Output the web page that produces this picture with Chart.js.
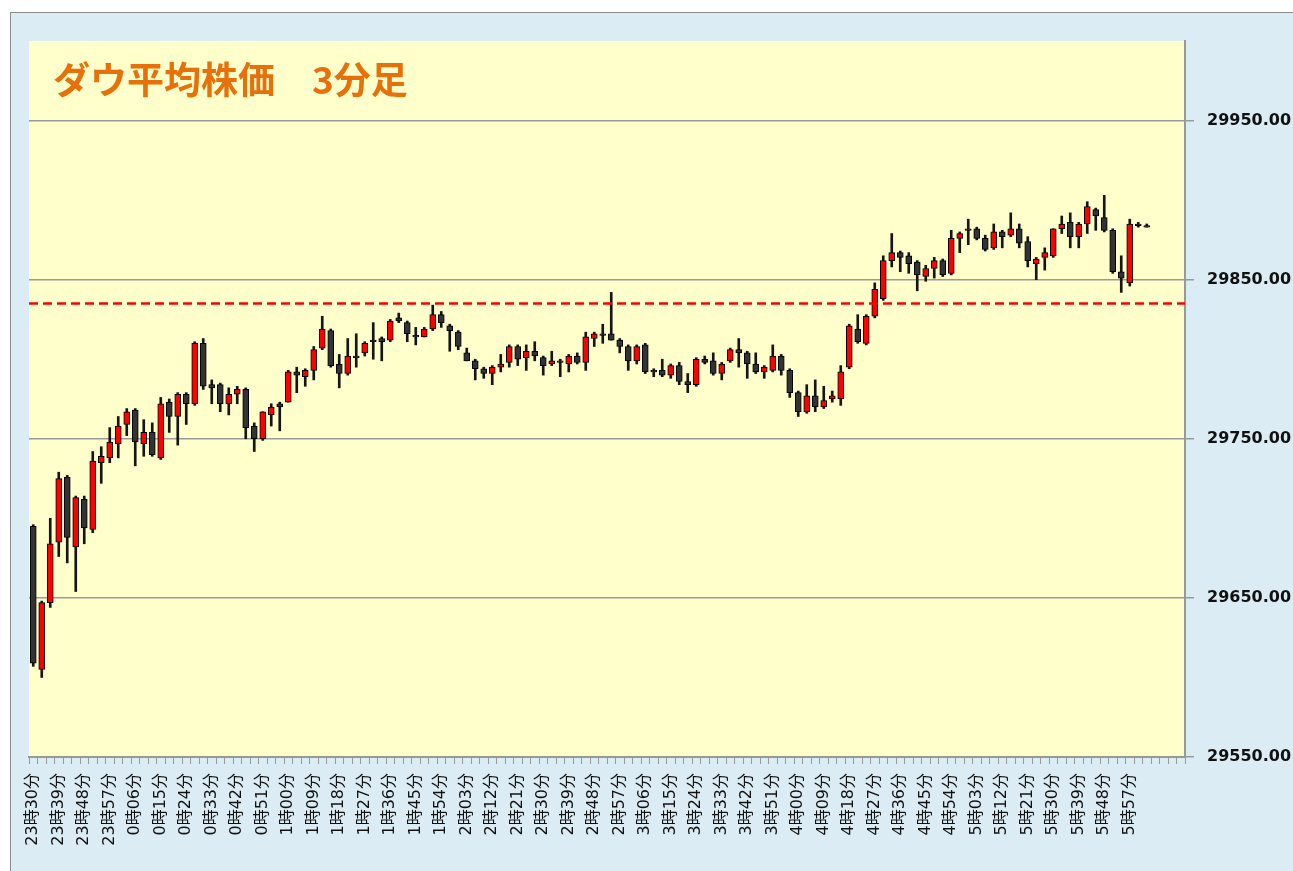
<!DOCTYPE html>
<html>
<head>
<meta charset="utf-8">
<script src="https://cdn.jsdelivr.net/npm/chart.js@4"></script>
<style>
  body { margin: 0; background: #fff; }
  #frame {
    position: absolute; left: 10px; top: 12px;
    width: 1283px; height: 859px;
    background: #dbecf4;
    border-left: 1px solid #8c8c8c; border-top: 1px solid #8c8c8c;
    box-sizing: border-box;
  }
</style>
</head>
<body>
<div id="frame"><canvas id="candles" width="1282" height="858"></canvas></div>
<script>
// 3-minute candles, 23:30 -> 6:03
var opens = [29695,29605,29647,29685,29726,29682,29712,29693,29735,29738,
  29747,29759,29768,29747,29754,29738,29773,29764,29778,29772,
  29810,29784,29784,29772,29778,29781,29758,29750,29765,29772,
  29773,29792,29789,29793,29807,29818,29797,29791,29802,29804,
  29812,29813,29812,29826,29823,29815,29814,29819,29828,29821,
  29817,29804,29799,29794,29791,29795,29798,29808,29801,29805,
  29801,29797,29799,29797,29802,29798,29813,29816,29816,29812,
  29808,29799,29809,29793,29793,29790,29796,29786,29784,29800,
  29799,29791,29799,29806,29804,29797,29792,29793,29802,29793,
  29779,29767,29777,29770,29775,29775,29795,29819,29810,29827,
  29838,29862,29867,29865,29861,29852,29857,29862,29854,29876,
  29882,29882,29876,29870,29880,29878,29882,29874,29860,29864,
  29865,29882,29886,29877,29885,29894,29889,29881,29855,29848,
  29885,29884];
var highs = [29696,29648,29700,29729,29727,29714,29714,29742,29745,29757,
  29764,29769,29769,29762,29760,29776,29775,29779,29779,29811,
  29813,29787,29785,29782,29783,29782,29760,29767,29772,29773,
  29793,29795,29794,29808,29827,29819,29803,29813,29816,29811,
  29823,29814,29825,29829,29824,29820,29820,29834,29830,29822,
  29818,29807,29800,29795,29796,29803,29809,29809,29809,29811,
  29802,29805,29800,29803,29804,29817,29817,29822,29842,29813,
  29809,29809,29810,29794,29800,29797,29798,29791,29801,29802,
  29804,29798,29807,29813,29805,29804,29796,29809,29803,29794,
  29780,29784,29787,29783,29780,29796,29822,29828,29828,29848,
  29865,29879,29868,29867,29862,29859,29864,29863,29881,29880,
  29888,29883,29878,29885,29881,29892,29885,29877,29864,29870,
  29882,29890,29892,29886,29899,29895,29903,29882,29865,29888,
  29886,29885];
var lows = [29607,29600,29644,29676,29672,29654,29684,29691,29722,29735,
  29738,29752,29733,29739,29739,29737,29754,29746,29759,29771,
  29781,29772,29767,29765,29772,29750,29742,29749,29758,29755,
  29773,29779,29783,29787,29806,29795,29782,29790,29795,29802,
  29800,29799,29811,29823,29811,29809,29814,29818,29820,29805,
  29806,29799,29787,29788,29784,29792,29795,29796,29793,29799,
  29790,29796,29789,29792,29797,29793,29808,29810,29812,29804,
  29793,29797,29791,29789,29789,29788,29784,29779,29783,29797,
  29790,29787,29798,29795,29788,29791,29788,29792,29790,29776,
  29764,29766,29767,29769,29773,29771,29794,29810,29809,29826,
  29837,29858,29855,29854,29843,29849,29851,29852,29853,29867,
  29872,29875,29868,29869,29870,29877,29870,29858,29850,29856,
  29864,29879,29870,29870,29879,29881,29880,29854,29842,29846,
  29883,29883];
var closes = [29609,29647,29684,29725,29688,29713,29694,29736,29739,29748,
  29758,29767,29748,29754,29740,29772,29764,29778,29772,29810,
  29783,29782,29772,29778,29781,29757,29750,29767,29770,29770,
  29792,29790,29793,29806,29819,29796,29791,29802,29801,29810,
  29811,29811,29824,29824,29816,29814,29819,29828,29823,29818,
  29808,29799,29794,29791,29795,29797,29808,29800,29805,29802,
  29796,29799,29798,29802,29798,29814,29816,29815,29812,29808,
  29799,29808,29792,29792,29790,29796,29786,29784,29800,29798,
  29791,29797,29806,29804,29797,29792,29795,29802,29793,29779,
  29767,29777,29770,29774,29777,29792,29821,29811,29827,29844,
  29862,29867,29864,29860,29853,29857,29862,29853,29876,29879,
  29881,29876,29869,29880,29877,29882,29873,29862,29863,29867,
  29882,29885,29877,29885,29896,29890,29881,29855,29851,29885,
  29884,29883];
var prevClose = 29835;
var yTicks = [29550, 29650, 29750, 29850, 29950];
var slotCount = 136;
var startHour = 23, startMin = 30, stepMin = 3;

// category labels: one slot per 3 minutes, empty slots after the last bar
var labels = [];
for (var i = 0; i < slotCount; i++) {
  if (i >= opens.length) { labels.push(''); continue; }
  var t = startHour * 60 + startMin + i * stepMin;
  var h = Math.floor(t / 60) % 24, m = t % 60;
  labels.push(h + '時' + (m < 10 ? '0' : '') + m + '分');
}

var bodies = opens.map(function(o, i) { return [o, closes[i]]; });
var wicks = lows.map(function(l, i) { return [l, highs[i]]; });

var plotBg = {
  id: 'plotBg',
  beforeDraw: function(chart) {
    var a = chart.chartArea, ctx = chart.ctx;
    ctx.save();
    ctx.fillStyle = '#ffffcc';
    ctx.fillRect(a.left, a.top, a.right - a.left, a.bottom - a.top);
    ctx.font = 'bold 37px "Noto Sans CJK JP"';
    ctx.fillStyle = '#e8700a';
    ctx.textBaseline = 'alphabetic';
    ctx.fillText('ダウ平均株価　3分足', a.left + 24, a.top + 53);
    ctx.restore();
  },
  afterDatasetsDraw: function(chart) {
    var a = chart.chartArea, ctx = chart.ctx;
    var y = chart.scales.y.getPixelForValue(prevClose);
    ctx.save();
    ctx.strokeStyle = '#ff0000';
    ctx.lineWidth = 2.5;
    ctx.setLineDash([9, 5]);
    ctx.beginPath();
    ctx.moveTo(a.left, y);
    ctx.lineTo(a.right, y);
    ctx.stroke();
    ctx.restore();
  }
};

new Chart('candles', {
  type: 'bar',
  data: {
    labels: labels,
    datasets: [
      {
        label: 'body',
        data: bodies,
        grouped: false,
        order: 0,
        barThickness: 6,
        backgroundColor: function(c) {
          var i = c.dataIndex;
          return closes[i] > opens[i] ? '#ff0000' : '#333333';
        },
        borderColor: '#000000',
        borderWidth: 1,
        borderSkipped: false
      },
      {
        label: 'wick',
        data: wicks,
        grouped: false,
        order: 1,
        barThickness: 2,
        backgroundColor: '#151515',
        borderWidth: 0
      }
    ]
  },
  options: {
    responsive: false,
    animation: false,
    devicePixelRatio: 1,
    layout: { padding: { left: 18, top: 28, right: 0, bottom: 0 } },
    plugins: { legend: { display: false }, tooltip: { enabled: false } },
    scales: {
      x: {
        offset: true,
        afterFit: function(s) { s.height = 114; },
        grid: { drawOnChartArea: false, drawTicks: true, tickLength: 7, color: '#999999' },
        border: { display: true, color: '#999999', width: 2 },
        ticks: {
          autoSkip: false,
          maxRotation: 90,
          minRotation: 90,
          padding: 9,
          color: '#111111',
          font: { family: 'DejaVu Sans, "Noto Sans CJK JP"', size: 16 },
          callback: function(v, i) {
            var l = labels[i];
            return (i % 3 === 0 && l) ? l : '';
          }
        }
      },
      y: {
        position: 'right',
        min: 29550,
        max: 30000,
        afterFit: function(s) { s.width = 108; },
        afterBuildTicks: function(s) {
          s.ticks = yTicks.map(function(v) { return { value: v }; });
        },
        grid: { color: '#9a9a9a', lineWidth: 1.5, tickLength: 9 },
        border: { display: true, color: '#999999', width: 2 },
        ticks: {
          padding: 13,
          color: '#111111',
          font: { family: 'DejaVu Sans', size: 16, weight: 'bold' },
          callback: function(v) { return v.toFixed(2); }
        }
      }
    }
  },
  plugins: [plotBg]
});
</script>
</body>
</html>
